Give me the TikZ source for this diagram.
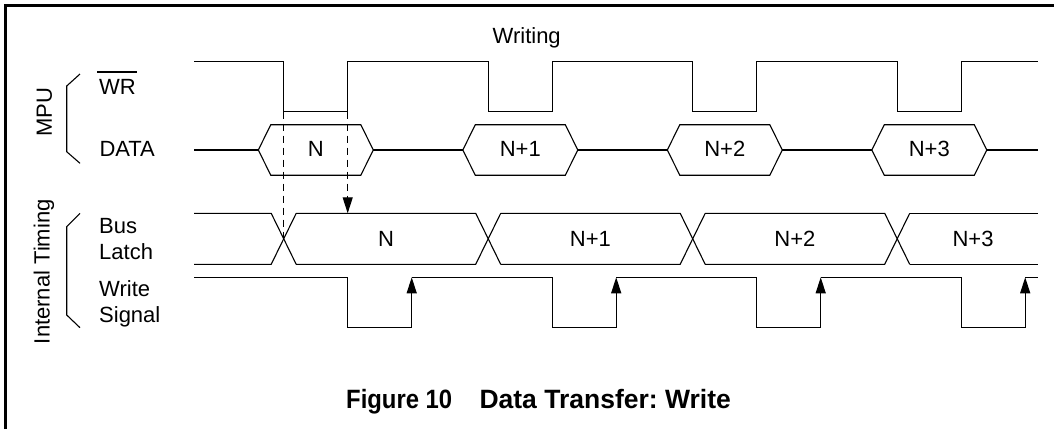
\documentclass[tikz,border=0pt]{standalone}
\usepackage{fontspec}
\setmainfont{Liberation Sans}
\usetikzlibrary{arrows.meta}
\frenchspacing
\begin{document}
\begin{tikzpicture}[x=1pt,y=-1pt,
  sig/.style={line width=1.1pt,line join=miter},
  dsh/.style={line width=1.1pt,dash pattern=on 7pt off 5pt},
  lbl/.style={inner sep=0pt,font=\fontsize{22}{26}\selectfont},
  ttl/.style={inner sep=0pt,font=\fontsize{26.5}{30}\selectfont\bfseries},
  tip/.style={-{Triangle[length=16pt,width=10pt]}}]
\useasboundingbox (0,0) rectangle (1054,429);
% frame
\draw[line width=2.6pt] (5.3,429) -- (5.3,5.3) -- (1054,5.3);
% labels
\node[lbl,anchor=base] (writing) at (526.7,43.3) {Writing};
\node[lbl,anchor=base west] (wr) at (99,94.3) {WR};
\draw[line width=1.2pt] ([xshift=-2pt,yshift=7pt]wr.north west) -- ([xshift=1pt,yshift=7pt]wr.north east);
\node[lbl,anchor=base west] (data) at (99.3,156.7) {DATA};
\node[lbl,anchor=base west] (bus) at (99,233.3) {Bus};
\node[lbl,anchor=base west] (latch) at (99,259.3) {Latch};
\node[lbl,anchor=base west] (write) at (99,296.7) {Write};
\node[lbl,anchor=base west] (signal) at (99,322.7) {Signal};
\node[lbl,rotate=90] (mpu) at (44.5,112) {MPU};
\node[lbl,rotate=90] (itim) at (44,271.7) {Internal Timing};
% brackets
\draw[sig] (80,74) -- (66.7,86) -- (66.7,151.7) -- (80,163.3);
\draw[sig] (80,213.3) -- (66.7,226.7) -- (66.7,315) -- (80,327.7);
% WR signal
\draw[sig] (194,61.7)
  -- (283.7,61.7) -- (283.7,111.7) -- (347.7,111.7) -- (347.7,61.7)
  -- (488.2,61.7) -- (488.2,111.7) -- (552.2,111.7) -- (552.2,61.7)
  -- (692.7,61.7) -- (692.7,111.7) -- (756.7,111.7) -- (756.7,61.7)
  -- (897.2,61.7) -- (897.2,111.7) -- (961.2,111.7) -- (961.2,61.7)
  -- (1038.3,61.7);
% DATA signal
\draw[sig] (194,150) -- (258.3,150);
\foreach \k/\t in {0/N,1/N+1,2/N+2,3/N+3}{
  \pgfmathsetmacro{\L}{258.3+204.5*\k}
  \draw[sig] (\L,150) -- ({\L+12.5},124.7) -- ({\L+102.5},124.7) -- ({\L+115},150)
     -- ({\L+102.5},175.2) -- ({\L+12.5},175.2) -- cycle;
  \node[lbl,anchor=base] (d\k) at ({\L+57.5},156.7) {\t};
}
\draw[sig] (373.3,150) -- (462.8,150);
\draw[sig] (577.8,150) -- (667.3,150);
\draw[sig] (782.3,150) -- (871.8,150);
\draw[sig] (986.8,150) -- (1038.3,150);
% Bus latch
\draw[sig] (194,213.3) -- (271.2,213.3) -- (296.2,264.3);
\draw[sig] (194,264.3) -- (271.2,264.3) -- (296.2,213.3);
\foreach \k/\t in {0/N,1/N+1,2/N+2}{
  \pgfmathsetmacro{\c}{283.7+204.5*\k}
  \pgfmathsetmacro{\d}{\c+204.5}
  \draw[sig] ({\c+12.5},213.3) -- ({\d-12.5},213.3) -- ({\d+12.5},264.3);
  \draw[sig] ({\c+12.5},264.3) -- ({\d-12.5},264.3) -- ({\d+12.5},213.3);
  \node[lbl,anchor=base] (b\k) at ({(\c+\d)/2},246.7) {\t};
}
\draw[sig] (909.7,213.3) -- (1038.3,213.3);
\draw[sig] (909.7,264.3) -- (1038.3,264.3);
\node[lbl,anchor=base] (b3) at (973,246.7) {N+3};
% Write signal
\draw[sig] (194,277.3) -- (347.7,277.3) -- (347.7,327.5) -- (411.7,327.5);
\foreach \k in {0,1,2,3}{
  \pgfmathsetmacro{\r}{411.7+204.5*\k}
  \draw[sig,tip] (\r,327.5) -- (\r,277.3);
}
\draw[sig] (411.7,277.3) -- (552.2,277.3) -- (552.2,327.5) -- (616.2,327.5);
\draw[sig] (616.2,277.3) -- (756.7,277.3) -- (756.7,327.5) -- (820.7,327.5);
\draw[sig] (820.7,277.3) -- (961.2,277.3) -- (961.2,327.5) -- (1025.2,327.5);
\draw[sig] (1025.2,277.3) -- (1038.3,277.3);
% dashed references
\coordinate (f0) at (283.7,111.7);
\coordinate (x0) at (283.7,238.8);
\coordinate (r0) at (347.7,111.7);
\coordinate (t0) at (347.7,213.3);
\draw[dsh] (f0) -- (x0);
\draw[dsh,tip] (r0) -- (t0);
% caption
\node[ttl,anchor=base west,xscale=0.9] (fig) at (346,408.3) {Figure 10};
\node[ttl,anchor=base west] (cap) at (479.3,408.3) {Data Transfer: Write};
\end{tikzpicture}
\end{document}
